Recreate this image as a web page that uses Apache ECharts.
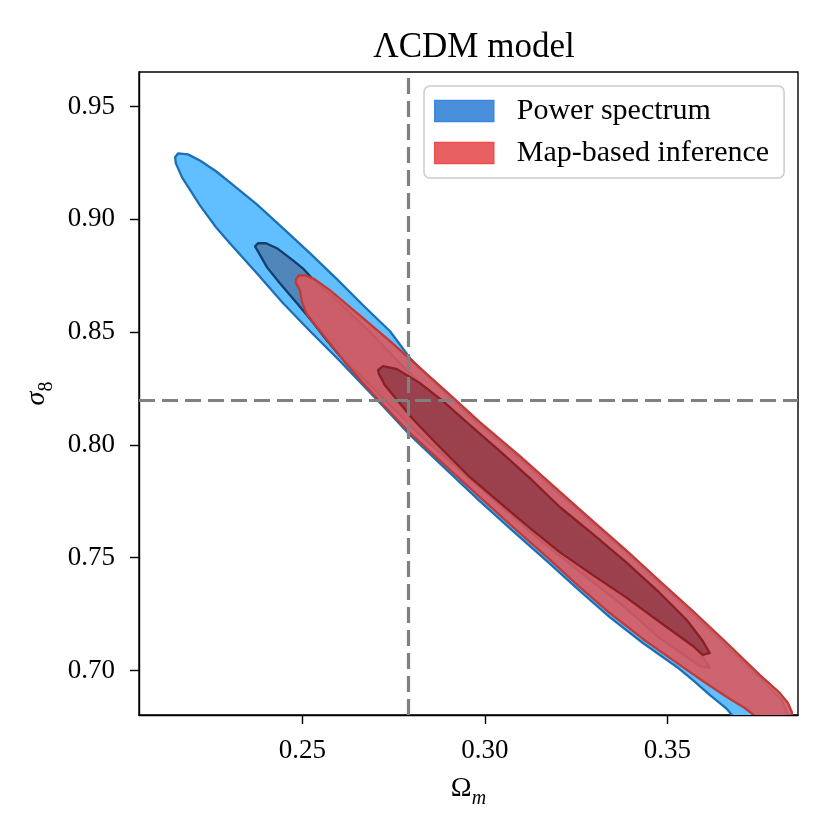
<!DOCTYPE html>
<html><head><meta charset="utf-8">
<script src="https://cdn.jsdelivr.net/npm/echarts@6/dist/echarts.min.js"></script>
<style>html,body{margin:0;padding:0;background:#fff}#c{width:830px;height:830px}</style>
</head><body><div id="c"></div>
<script>
// Contour polygons [Omega_m, sigma_8]
const psOuter = [[0.2151,0.9275],[0.2159,0.9292],[0.2186,0.9288],[0.2219,0.9261],[0.2263,0.9213],[0.2301,0.9164],[0.2375,0.9066],[0.2447,0.8960],[0.2521,0.8849],[0.2595,0.8734],[0.2666,0.8619],[0.2740,0.8504],[0.2795,0.8384],[0.2896,0.8221],[0.2986,0.8088],[0.3096,0.7937],[0.3225,0.7751],[0.3389,0.7521],[0.3570,0.7251],[0.3753,0.6967],[0.3814,0.6870],[0.3827,0.6817],[0.3833,0.6759],
  [0.3685,0.6759],[0.3679,0.6799],[0.3663,0.6830],[0.3616,0.6892],[0.3570,0.6958],[0.3526,0.7016],[0.3433,0.7122],[0.3342,0.7237],[0.3260,0.7353],[0.3170,0.7485],[0.3077,0.7618],[0.2986,0.7751],[0.2896,0.7888],[0.2795,0.8043],[0.2721,0.8172],[0.2666,0.8265],[0.2595,0.8384],[0.2521,0.8504],[0.2447,0.8628],[0.2375,0.8761],[0.2301,0.8894],[0.2263,0.8965],[0.2219,0.9062],[0.2170,0.9186],[0.2153,0.9248]];
const psInner = [[0.2370,0.8880],[0.2378,0.8894],[0.2400,0.8894],[0.2430,0.8872],[0.2474,0.8818],[0.2501,0.8783],[0.2526,0.8739],[0.2603,0.8628],[0.2685,0.8500],[0.2767,0.8362],[0.2849,0.8229],[0.2932,0.8092],[0.3041,0.7924],[0.3151,0.7764],[0.3260,0.7605],[0.3370,0.7450],[0.3479,0.7295],[0.3562,0.7149],[0.3616,0.7012],
  [0.3589,0.7020],[0.3479,0.7144],[0.3370,0.7299],[0.3260,0.7437],[0.3151,0.7578],[0.3041,0.7733],[0.2932,0.7888],[0.2822,0.8043],[0.2740,0.8176],[0.2658,0.8309],[0.2603,0.8393],[0.2562,0.8473],[0.2526,0.8548],[0.2485,0.8628],[0.2438,0.8717],[0.2403,0.8787],[0.2378,0.8858]];
const mapOuter = [[0.2482,0.8734],[0.2490,0.8752],[0.2507,0.8752],[0.2534,0.8734],[0.2575,0.8686],[0.2666,0.8562],[0.2740,0.8460],[0.2795,0.8380],[0.2896,0.8234],[0.2986,0.8101],[0.3096,0.7950],[0.3225,0.7764],[0.3296,0.7662],[0.3389,0.7530],[0.3479,0.7397],[0.3570,0.7264],[0.3663,0.7122],[0.3753,0.6981],[0.3808,0.6901],[0.3830,0.6857],[0.3841,0.6817],[0.3844,0.6759],
  [0.3742,0.6759],[0.3740,0.6799],[0.3712,0.6834],[0.3663,0.6883],[0.3597,0.6954],[0.3526,0.7034],[0.3433,0.7140],[0.3342,0.7255],[0.3260,0.7370],[0.3170,0.7503],[0.3077,0.7636],[0.2986,0.7769],[0.2896,0.7902],[0.2795,0.8052],[0.2712,0.8194],[0.2666,0.8274],[0.2616,0.8367],[0.2575,0.8451],[0.2540,0.8522],[0.2512,0.8579],[0.2499,0.8632],[0.2493,0.8686],[0.2482,0.8717]];
const mapInner = [[0.2707,0.8331],[0.2721,0.8349],[0.2759,0.8336],[0.2822,0.8274],[0.2885,0.8194],[0.2959,0.8088],[0.3041,0.7973],[0.3123,0.7853],[0.3205,0.7725],[0.3296,0.7605],[0.3389,0.7477],[0.3479,0.7344],[0.3553,0.7224],[0.3597,0.7131],[0.3616,0.7078],
  [0.3597,0.7069],[0.3570,0.7109],[0.3479,0.7215],[0.3389,0.7322],[0.3296,0.7423],[0.3205,0.7525],[0.3123,0.7632],[0.3049,0.7733],[0.2959,0.7857],[0.2868,0.8004],[0.2803,0.8114],[0.2748,0.8221],[0.2726,0.8265],[0.2710,0.8314]];
const fiducialOmegaM = 0.279;
const fiducialSigma8 = 0.82;
const xRange = [0.2052, 0.3858];
const yRange = [0.6803, 0.9653];
const xTicks = [0.25, 0.30, 0.35];
const yTicks = [0.70, 0.75, 0.80, 0.85, 0.90, 0.95];
const seriesNames = ['Power spectrum', 'Map-based inference'];

const FONT = 'Liberation Serif';

const psLayers = [
  {pts: psOuter, fill: '#62bfff', stroke: '#1b70b5'},
  {pts: psInner, fill: '#5086b9', stroke: '#103f6e'}
];
const mapLayers = [
  {pts: mapOuter, fill: 'rgba(217,90,96,0.9)', stroke: '#c03b37'},
  {pts: mapInner, fill: 'rgba(150,62,74,0.9)', stroke: '#8a1f24'}
];

function contourSeries(name, layers, z, legendColor) {
  return {
    type: 'custom', name: name, z: z, clip: true, silent: true,
    itemStyle: {color: legendColor},
    data: layers.map((l, i) => [i]),
    encode: {x: -1, y: -1},
    renderItem: function (params, api) {
      const L = layers[api.value(0)];
      return {
        type: 'polygon',
        shape: {points: L.pts.map(p => api.coord(p))},
        style: {fill: L.fill, stroke: L.stroke, lineWidth: 2.3, lineJoin: 'round'}
      };
    }
  };
}

const chart = echarts.init(document.getElementById('c'), null, {renderer: 'canvas'});
chart.setOption({
  animation: false,
  backgroundColor: '#fff',
  title: {
    text: 'ΛCDM model', left: 469, top: 25, textAlign: 'center',
    textStyle: {fontFamily: FONT, fontSize: 35, fontWeight: 'normal', color: '#000'}
  },
  grid: {left: 139, right: 32, top: 72, bottom: 115, show: true, borderColor: '#000', borderWidth: 1.4, backgroundColor: 'transparent'},
  legend: {
    orient: 'vertical', left: 424, top: 86,
    padding: [10, 15, 10, 10], itemWidth: 59, itemHeight: 21, itemGap: 12,
    backgroundColor: '#fff', borderColor: '#cccccc', borderWidth: 1.5, borderRadius: 6,
    textStyle: {fontFamily: FONT, fontSize: 30, color: '#000', padding: [0, 0, 0, 18]},
    selectedMode: false,
    data: [
      {name: seriesNames[0], icon: 'rect', itemStyle: {color: '#4a8fd9', borderColor: '#3b86e3', borderWidth: 1.5}},
      {name: seriesNames[1], icon: 'rect', itemStyle: {color: '#e86062', borderColor: '#f04c4c', borderWidth: 1.5}}
    ]
  },
  xAxis: {
    type: 'value', min: xRange[0], max: xRange[1],
    name: '{o|Ω}{s|m}', nameLocation: 'middle', nameGap: 60,
    nameTextStyle: {rich: {
      o: {fontFamily: FONT, fontSize: 28, color: '#000', verticalAlign: 'bottom', padding: [0, 0, 6, 0]},
      s: {fontFamily: FONT, fontSize: 20, fontStyle: 'italic', color: '#000', verticalAlign: 'bottom'}
    }},
    axisLine: {show: true, onZero: false, lineStyle: {color: '#000', width: 1.4}},
    axisTick: {show: true, customValues: xTicks, length: 9, lineStyle: {color: '#000', width: 1.4}},
    axisLabel: {customValues: xTicks, margin: 22, fontFamily: FONT, fontSize: 27, color: '#000', formatter: v => v.toFixed(2)},
    splitLine: {show: false}
  },
  yAxis: {
    type: 'value', min: yRange[0], max: yRange[1],
    name: '{o|σ}{s|8}', nameLocation: 'middle', nameGap: 77, nameRotate: 90,
    nameTextStyle: {rich: {
      o: {fontFamily: FONT, fontSize: 28, fontStyle: 'italic', color: '#000', verticalAlign: 'bottom', padding: [0, 0, 6, 0]},
      s: {fontFamily: FONT, fontSize: 20, color: '#000', verticalAlign: 'bottom'}
    }},
    axisLine: {show: true, onZero: false, lineStyle: {color: '#000', width: 1.4}},
    axisTick: {show: true, customValues: yTicks, length: 9, lineStyle: {color: '#000', width: 1.4}},
    axisLabel: {customValues: yTicks, margin: 24, fontFamily: FONT, fontSize: 27, color: '#000', formatter: v => v.toFixed(2)},
    splitLine: {show: false}
  },
  series: [
    contourSeries(seriesNames[0], psLayers, 2, '#4a8fd9'),
    contourSeries(seriesNames[1], mapLayers, 3, '#e86062'),
    {
      type: 'line', name: 'fiducial', data: [], z: 5, silent: true,
      markLine: {
        silent: true, symbol: 'none', animation: false, precision: 4,
        label: {show: false},
        lineStyle: {color: '#808080', width: 3.2, type: [16, 7]},
        data: [{xAxis: fiducialOmegaM}, {yAxis: fiducialSigma8}]
      }
    }
  ]
});
</script></body></html>
